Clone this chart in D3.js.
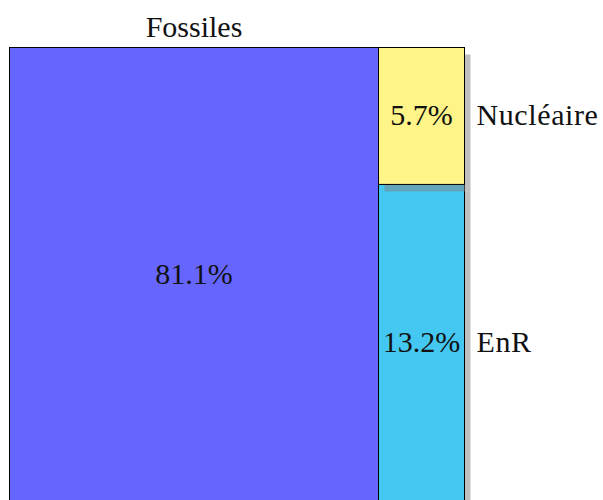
<!DOCTYPE html>
<html><head><meta charset="utf-8">
<script src="https://cdn.jsdelivr.net/npm/d3@7"></script>
<style>body{margin:0;background:#fff}svg{display:block}</style>
</head><body>
<script>
const categories = ["Fossiles", "Nucléaire", "EnR"];
const values = [81.1, 5.7, 13.2];
const colors = ["#6666ff", "#fff488", "#44c8f2"];

const W = 603, H = 500;
const svg = d3.select("body").append("svg").attr("width", W).attr("height", H);
const x = d3.scaleLinear().domain([0, 100]).range([9.5, 464.5]);
const y = d3.scaleLinear().domain([0, 100]).range([47.5, 501.5]);

const total = d3.sum(values);
const rest = total - values[0];
const cells = [];
cells.push({name: categories[0], v: values[0], color: colors[0],
  x0: 0, x1: values[0] / total * 100, y0: 0, y1: 100});
let acc = 0;
for (let i = 1; i < categories.length; i++) {
  const h = values[i] / rest * 100;
  cells.push({name: categories[i], v: values[i], color: colors[i],
    x0: values[0] / total * 100, x1: 100, y0: acc, y1: acc + h});
  acc += h;
}
const order = [cells[0], cells[2], cells[1]];
const fmt = d => d.toFixed(1) + "%";
const font = "'Liberation Serif', 'Times New Roman', serif";
const fs = 30;

order.forEach(c => {
  svg.append("rect")
    .attr("x", x(c.x0) + 6).attr("y", y(c.y0) + 7)
    .attr("width", x(c.x1) - x(c.x0)).attr("height", y(c.y1) - y(c.y0))
    .attr("fill", "#808080").attr("fill-opacity", 0.5);
  svg.append("rect")
    .attr("x", x(c.x0)).attr("y", y(c.y0))
    .attr("width", x(c.x1) - x(c.x0)).attr("height", y(c.y1) - y(c.y0))
    .attr("fill", c.color).attr("stroke", "#000").attr("stroke-width", 1);
});

cells.forEach((c, i) => {
  const cy = (y(c.y0) + y(c.y1)) / 2;
  svg.append("text")
    .attr("x", (x(c.x0) + x(c.x1)) / 2).attr("y", cy + 9.5)
    .attr("text-anchor", "middle")
    .attr("font-family", font).attr("font-size", fs).attr("fill", "#111")
    .text(fmt(c.v));
  if (i === 0) {
    svg.append("text")
      .attr("x", (x(c.x0) + x(c.x1)) / 2).attr("y", 37)
      .attr("text-anchor", "middle")
      .attr("font-family", font).attr("font-size", fs).attr("fill", "#111")
      .text(c.name);
  } else {
    svg.append("text")
      .attr("x", x(c.x1) + 12).attr("y", cy + 9.5)
      .attr("text-anchor", "start")
      .attr("font-family", font).attr("font-size", fs).attr("fill", "#111")
      .attr("letter-spacing", 0.6)
      .text(c.name);
  }
});
</script>
</body></html>
